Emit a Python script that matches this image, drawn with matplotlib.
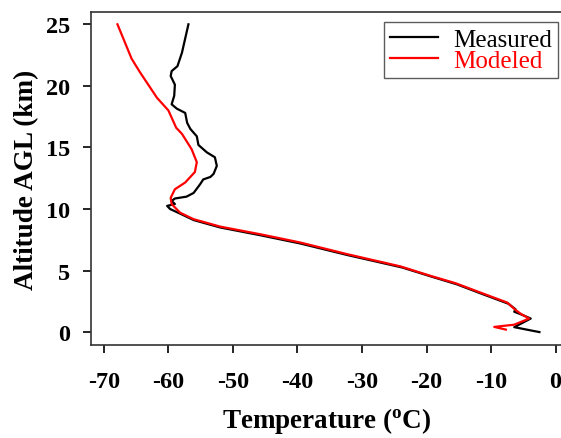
import matplotlib
matplotlib.use('Agg')
from matplotlib import pyplot as plt

# measured profile (temperature in C, altitude in km)
t_meas = [-2.5, -3.5, -6.4, -3.85, -5.4, -6.4, -6.2, -7.3, -11.4, -15.3, -19.2, -23.8,
          -32.2, -39.6, -45.8, -52.0, -56.1, -57.9, -59.75, -60.2, -59.0, -59.5, -59.0,
          -57.2, -56.1, -55.1, -54.6, -53.5, -53.0, -52.5, -52.8, -54.05, -55.35, -55.6,
          -56.6, -57.1, -57.4, -58.7, -59.5, -59.1, -59.0, -59.65, -59.5, -58.6, -57.9,
          -56.9]
alt_meas = [0.0, 0.1, 0.4, 1.1, 1.45, 1.65, 1.85, 2.3, 3.1, 3.88, 4.5, 5.25,
            6.25, 7.2, 7.87, 8.5, 9.1, 9.55, 10.0, 10.25, 10.4, 10.65, 10.85,
            11.0, 11.3, 12.0, 12.4, 12.6, 12.85, 13.5, 14.2, 14.6, 15.2, 15.9,
            16.5, 17.0, 17.8, 18.15, 18.5, 19.2, 20.1, 20.8, 21.2, 21.6, 22.7,
            25.0]

# modeled profile
t_mod = [-7.7, -9.5, -6.4, -4.1, -5.3, -6.2, -7.5, -11.6, -15.5, -19.4, -24.0, -32.3,
         -39.6, -45.8, -52.0, -56.1, -58.2, -59.5, -59.65, -59.0, -57.4, -55.9, -55.6,
         -56.4, -57.9, -58.8, -60.0, -61.8, -64.4, -65.7, -67.9]
alt_mod = [0.2, 0.42, 0.6, 1.1, 1.45, 1.8, 2.4, 3.2, 3.97, 4.57, 5.33, 6.33,
           7.28, 7.95, 8.57, 9.17, 9.7, 10.4, 10.9, 11.6, 12.15, 13.0, 13.8,
           14.85, 16.1, 16.6, 18.0, 19.05, 21.1, 22.2, 25.0]

x_ticks = [-70, -60, -50, -40, -30, -20, -10, 0]
y_ticks = [0, 5, 10, 15, 20, 25]

plt.rcParams['font.family'] = ['Liberation Serif', 'DejaVu Serif']
plt.rcParams['axes.unicode_minus'] = False

fig = plt.figure(figsize=(5.61, 4.39), dpi=100)
ax = fig.add_axes([91 / 561, 93 / 439, 471 / 561, 333 / 439])

ax.plot(t_meas, alt_meas, color='black', lw=1.6, label='Measured')
ax.plot(t_mod, alt_mod, color='red', lw=1.6, label='Modeled')

ax.set_xlim(-72, 1)
ax.set_ylim(-1.05, 26)
ax.set_xticks(x_ticks)
ax.set_yticks(y_ticks)
ax.tick_params(labelsize=17.5, width=1.2, length=6, colors='black')
ax.tick_params(axis='x', pad=13)
ax.tick_params(axis='y', pad=9)
for lab in ax.get_xticklabels() + ax.get_yticklabels():
    lab.set_fontweight('bold')
for s in ax.spines.values():
    s.set_linewidth(1.2)
    s.set_color('#333333')

ax.set_xlabel('Temperature ($\\mathregular{^{o}}$C)', fontsize=19.5, fontweight='bold', labelpad=9)
ax.set_ylabel('Altitude AGL (km)', fontsize=19.5, fontweight='bold', labelpad=5)

leg = fig.legend(loc='upper right', bbox_to_anchor=(558 / 561, 1 - 23 / 439),
                 fontsize=18, frameon=True, fancybox=False, edgecolor='#333333',
                 handlelength=1.9, handletextpad=0.6, labelspacing=-0.05,
                 borderpad=0.25, borderaxespad=0)
leg.get_frame().set_linewidth(1.0)
for txt, line in zip(leg.get_texts(), leg.get_lines()):
    txt.set_color(line.get_color())

fig.savefig('out.png', dpi=100)
